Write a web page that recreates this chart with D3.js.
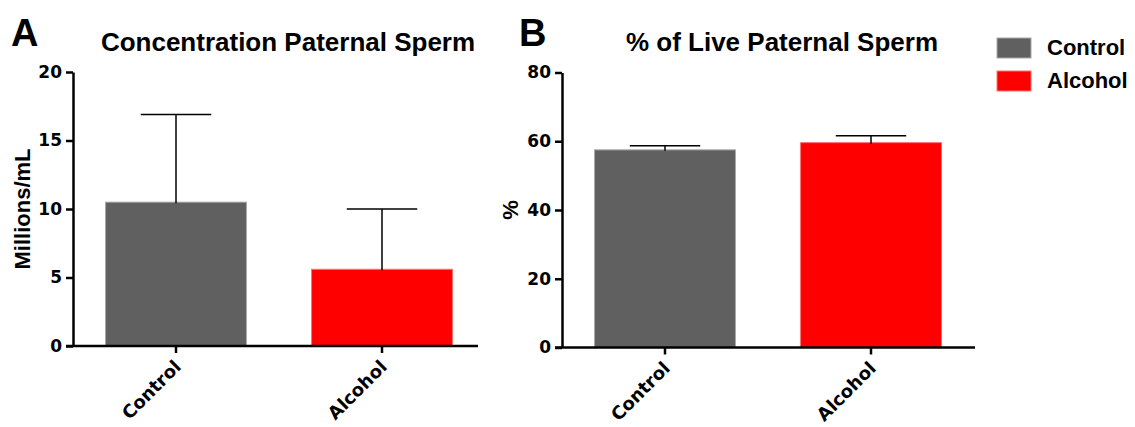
<!DOCTYPE html>
<html>
<head>
<meta charset="utf-8">
<script src="https://cdn.jsdelivr.net/npm/d3@7"></script>
<style>
  body { margin: 0; background: #fff; }
  svg { display: block; }
  .title { font-family: "Liberation Sans", Arial, sans-serif; font-weight: bold; }
  .tick text { font-family: "DejaVu Sans", Verdana, sans-serif; font-weight: bold; }
</style>
</head>
<body>
<div id="chart"></div>
<script>
// data
var groups = ["Control", "Alcohol"];
var colors = ["#606060", "#ff0000"];
var concMean = [10.5, 5.6];
var concSem = [6.4, 4.4];
var liveMean = [57.5, 59.6];
var liveSem = [1.2, 2.0];
var concTicks = [0, 5, 10, 15, 20];
var liveTicks = [0, 20, 40, 60, 80];

var W = 1135, H = 427;
var svg = d3.select("#chart").append("svg").attr("width", W).attr("height", H);

function panel(opt) {
  var g = svg.append("g");
  var y = d3.scaleLinear().domain(opt.domain).range([opt.bottom, opt.top]);
  var x = d3.scaleBand().domain(groups)
    .range([opt.left, opt.left + 412]).paddingInner(0.316).paddingOuter(0.158);

  // bars
  g.selectAll("rect.bar").data(groups).enter().append("rect")
    .attr("class", "bar")
    .attr("x", function (d) { return x(d); })
    .attr("width", x.bandwidth())
    .attr("y", function (d, i) { return y(opt.mean[i]); })
    .attr("height", function (d, i) { return opt.bottom - y(opt.mean[i]); })
    .attr("fill", function (d, i) { return colors[i]; })
    .attr("stroke", function (d, i) { return i === 0 ? "#a8a8a8" : "#ff7070"; })
    .attr("stroke-width", 1);

  // error bars (upper only)
  var cap = x.bandwidth() / 2;
  groups.forEach(function (d, i) {
    var cx = x(d) + x.bandwidth() / 2;
    var top = y(opt.mean[i] + opt.sem[i]);
    g.append("line").attr("x1", cx).attr("x2", cx)
      .attr("y1", y(opt.mean[i]) + 1).attr("y2", top)
      .attr("stroke", "#000").attr("stroke-width", 1.5);
    g.append("line").attr("x1", cx - cap / 2).attr("x2", cx + cap / 2)
      .attr("y1", top).attr("y2", top)
      .attr("stroke", "#000").attr("stroke-width", 1.5);
  });

  // y axis
  var ya = g.append("g").attr("transform", "translate(" + opt.left + ",0)")
    .call(d3.axisLeft(y).tickValues(opt.ticks).tickSize(7).tickPadding(4).tickSizeOuter(0));
  ya.select(".domain").attr("stroke", "#000").attr("stroke-width", 2.5);
  ya.selectAll(".tick line").attr("stroke", "#000").attr("stroke-width", 2.5);
  ya.selectAll(".tick text").attr("font-size", 17).attr("fill", "#000");

  // x axis
  g.append("line").attr("x1", opt.left - 7).attr("x2", opt.right)
    .attr("y1", opt.bottom).attr("y2", opt.bottom)
    .attr("stroke", "#000").attr("stroke-width", 2.5);
  var xt = g.selectAll("g.xtick").data(groups).enter().append("g")
    .attr("class", "tick")
    .attr("transform", function (d) {
      return "translate(" + (x(d) + x.bandwidth() / 2) + "," + opt.bottom + ")";
    });
  xt.append("line").attr("y1", 0).attr("y2", 7)
    .attr("stroke", "#000").attr("stroke-width", 2.5);
  xt.append("text")
    .attr("text-anchor", "end")
    .attr("font-size", 18)
    .attr("transform", "translate(6,22) rotate(-45)")
    .text(function (d) { return d; });

  // y label
  g.append("text").attr("class", "title")
    .attr("font-size", 22)
    .attr("text-anchor", "middle")
    .attr("transform", "translate(" + opt.ylabX + "," + (opt.top + opt.bottom) / 2 + ") rotate(-90)")
    .text(opt.ylabel);

  // title and panel letter
  g.append("text").attr("class", "title").attr("font-size", 26)
    .attr("x", opt.titleX).attr("y", 51).attr("text-anchor", "middle")
    .text(opt.title);
  g.append("text").attr("class", "title").attr("font-size", 38)
    .attr("x", opt.letterX).attr("y", 46)
    .text(opt.letter);
}

panel({
  left: 73, right: 478, top: 72, bottom: 346,
  domain: [0, 20], ticks: concTicks, mean: concMean, sem: concSem,
  ylabel: "Millions/mL", ylabX: 30,
  title: "Concentration Paternal Sperm", titleX: 288,
  letter: "A", letterX: 11
});

panel({
  left: 562, right: 975, top: 72.5, bottom: 347.5,
  domain: [0, 80], ticks: liveTicks, mean: liveMean, sem: liveSem,
  ylabel: "%", ylabX: 518,
  title: "% of Live Paternal Sperm", titleX: 782,
  letter: "B", letterX: 519
});

// legend
var leg = svg.append("g").attr("transform", "translate(997,38)");
groups.forEach(function (d, i) {
  leg.append("rect").attr("x", 0).attr("y", i * 33)
    .attr("width", 34).attr("height", 20)
    .attr("fill", colors[i])
    .attr("stroke", i === 0 ? "#a8a8a8" : "#ff7070").attr("stroke-width", 1);
  leg.append("text").attr("class", "title")
    .attr("x", 50).attr("y", i * 33 + 17)
    .attr("font-size", 22)
    .text(d);
});
</script>
</body>
</html>
